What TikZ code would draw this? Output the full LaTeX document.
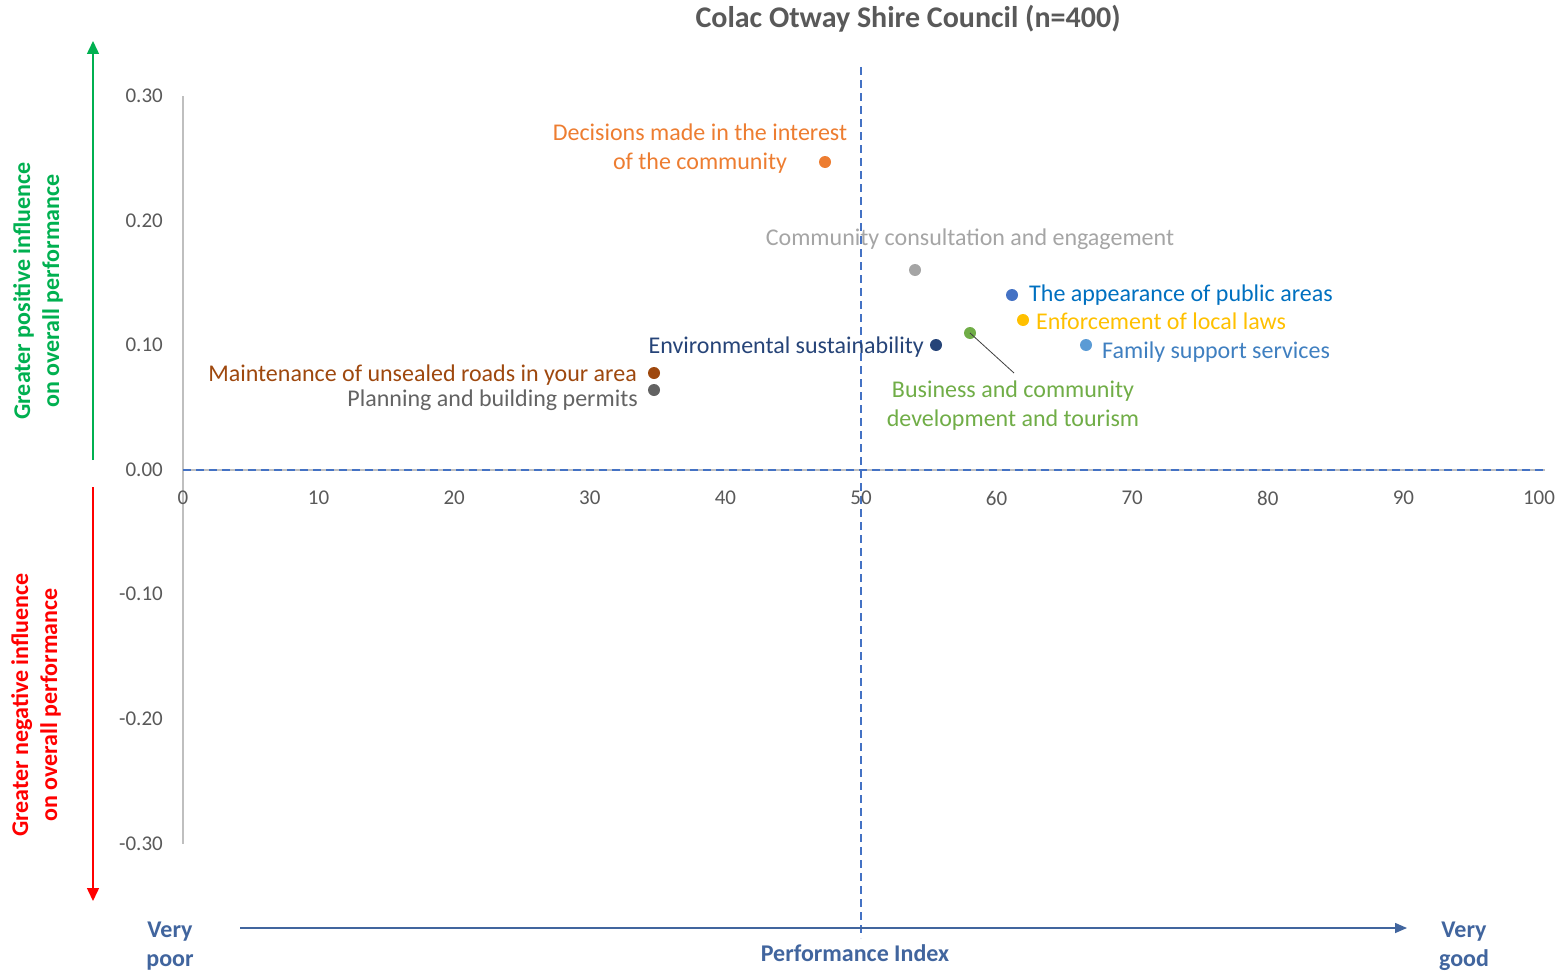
\documentclass[tikz,border=0pt]{standalone}
\usepackage{fontspec}
\setmainfont{Carlito}
\usetikzlibrary{arrows.meta}
\definecolor{titlegrey}{HTML}{595959}
\definecolor{tickgrey}{HTML}{595959}
\definecolor{axisgrey}{HTML}{BFBFBF}
\definecolor{dashblue}{HTML}{4472C4}
\definecolor{perfblue}{HTML}{41659E}
\definecolor{posgreen}{HTML}{00B050}
\definecolor{negred}{HTML}{FF0000}
\definecolor{corange}{HTML}{ED7D31}
\definecolor{cgrey}{HTML}{A5A5A5}
\definecolor{cblue}{HTML}{4472C4}
\definecolor{cblue2}{HTML}{0070C0}
\definecolor{cgold}{HTML}{FFC000}
\definecolor{clblue}{HTML}{5B9BD5}
\definecolor{clblue2}{HTML}{3F7FC0}
\definecolor{cgreen}{HTML}{70AD47}
\definecolor{cnavy}{HTML}{264478}
\definecolor{cbrown}{HTML}{9E480E}
\definecolor{cdgrey}{HTML}{636363}
\begin{document}
\begin{tikzpicture}[x=1pt,y=-1pt,
  tick/.style={text=tickgrey,font=\fontsize{21}{24}\selectfont,inner sep=0pt},
  lbl/.style={font=\fontsize{24}{29}\selectfont,inner sep=0pt},
  dot/.style={circle,inner sep=0pt,minimum size=12pt},
  axtitle/.style={font=\bfseries\fontsize{24}{29}\selectfont,inner sep=0pt,align=center},
  dashln/.style={draw=dashblue,line width=1.4pt,dash pattern=on 8pt off 5pt}]
\useasboundingbox (0,0) rectangle (1560,974);
% title
\node[font=\bfseries\fontsize{30}{34}\selectfont,text=titlegrey] (title) at (908,19) {Colac Otway Shire Council (n=400)};
% axes
\coordinate (yax top) at (183,96);
\coordinate (yax bot) at (183,844);
\coordinate (xax l) at (183,470);
\coordinate (xax r) at (1545,470);
\draw[axisgrey,line width=1.2pt] (yax top) -- (yax bot);
\draw[axisgrey,line width=1.2pt] (xax l) -- (xax r);
\draw[dashln] (xax l) -- (xax r);
\coordinate (mid top) at (861,67);
\coordinate (mid bot) at (861,938);
\draw[dashln] (mid top) -- (mid bot);
% x ticks
\foreach \v in {0,10,...,100}{
  \node[tick] (xt\v) at ({183+13.56*\v},498) {\v};
}
% y ticks
\node[tick,anchor=east] (yt30) at (163,96) {0.30};
\node[tick,anchor=east] (yt20) at (163,221) {0.20};
\node[tick,anchor=east] (yt10) at (163,345) {0.10};
\node[tick,anchor=east] (yt00) at (163,470) {0.00};
\node[tick,anchor=east] (ytm10) at (163,594) {-0.10};
\node[tick,anchor=east] (ytm20) at (163,719) {-0.20};
\node[tick,anchor=east] (ytm30) at (163,844) {-0.30};
% influence arrows
\coordinate (g0) at (93,460);
\coordinate (g1) at (93,41);
\draw[posgreen,line width=1.5pt,-{Triangle[length=13pt,width=12pt]}] (g0) -- (g1);
\coordinate (r0) at (93,487);
\coordinate (r1) at (93,901);
\draw[negred,line width=1.5pt,-{Triangle[length=13pt,width=12pt]}] (r0) -- (r1);
\node[axtitle,text=posgreen,rotate=90] (postitle) at (38,291) {Greater positive influence\\on overall performance};
\node[axtitle,text=negred,rotate=90] (negtitle) at (36,705) {Greater negative influence\\on overall performance};
% performance arrow
\coordinate (p0) at (240,928);
\coordinate (p1) at (1407,928);
\draw[perfblue,line width=1.5pt,-{Triangle[length=12pt,width=10pt]}] (p0) -- (p1);
\node[axtitle,text=perfblue] (vpoor) at (170,946) {Very\\poor};
\node[axtitle,text=perfblue] (vgood) at (1464,946) {Very\\good};
\node[axtitle,text=perfblue] (perf) at (855,953) {Performance Index};
% data points
\node[dot,fill=corange] (decis) at (825,162) {};
\node[dot,fill=cgrey] (consult) at (915,270) {};
\node[dot,fill=cblue] (appear) at (1012,295) {};
\node[dot,fill=cgold] (enforce) at (1023,320) {};
\node[dot,fill=clblue] (family) at (1086,345) {};
\node[dot,fill=cgreen] (business) at (970,333) {};
\node[dot,fill=cnavy] (environ) at (936,345) {};
\node[dot,fill=cbrown] (maint) at (654,373) {};
\node[dot,fill=cdgrey] (plan) at (654,390) {};
% labels
\node[lbl,text=corange,align=center] (ldecis) at (700,149) {Decisions made in the interest\\of the community};
\node[lbl,text=cgrey] (lconsult) at (970,239) {Community consultation and engagement};
\node[lbl,text=cblue2,anchor=west] (lappear) at (1029,295) {The appearance of public areas};
\node[lbl,text=cgold,anchor=west] (lenforce) at (1036,321) {Enforcement of local laws};
\node[lbl,text=clblue2,anchor=west] (lfamily) at (1102,352) {Family support services};
\node[lbl,text=cnavy,anchor=east] (lenviron) at (924,347) {Environmental sustainability};
\node[lbl,text=cbrown,anchor=east] (lmaint) at (637,375) {Maintenance of unsealed roads in your area};
\node[lbl,text=cdgrey,anchor=east] (lplan) at (638,400) {Planning and building permits};
\node[lbl,text=cgreen,align=center] (lbusiness) at (1013,406) {Business and community\\development and tourism};
\coordinate (lead end) at (1014,373);
\draw[black!75,line width=0.8pt] (business.center) -- (lead end);
\end{tikzpicture}
\end{document}
